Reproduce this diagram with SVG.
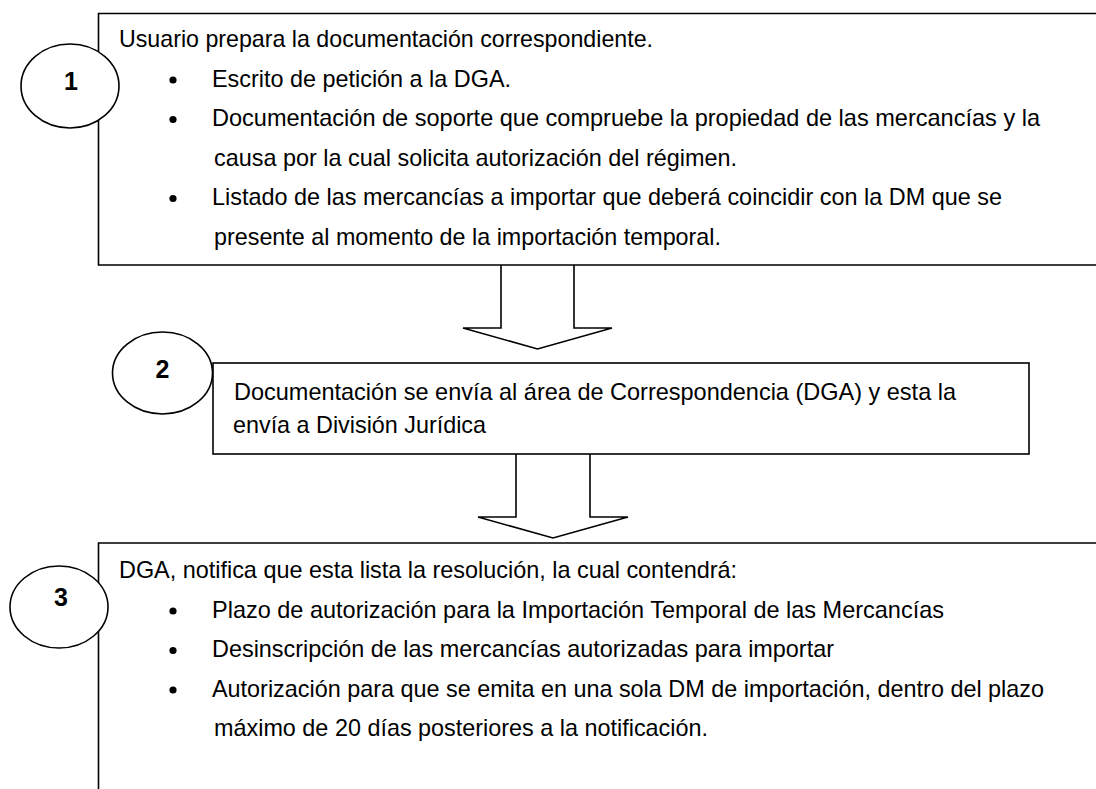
<svg xmlns="http://www.w3.org/2000/svg" width="1096" height="789" viewBox="0 0 1096 789">
<style>
.box{fill:#fff;stroke:#000;stroke-width:1.6}
.oval{fill:#fff;stroke:#000;stroke-width:1.6}
.arrow{fill:#fff;stroke:#000;stroke-width:1.6;stroke-linejoin:miter}
.t{font-family:"Liberation Sans",Arial,sans-serif;font-size:24px;fill:#000}
.num{font-family:"Liberation Sans",Arial,sans-serif;font-size:25px;font-weight:bold;fill:#000;text-anchor:middle}
.bul{fill:#000}
</style>
<rect width="1096" height="789" fill="#fff"/>
<g id="connectors">
<path class="arrow" d="M501,265 V328 H463 L537.5,349 L612,328 H574 V265"/>
<path class="arrow" d="M516,454 V517 H478 L553,538 L628,517 H590 V454"/>
</g>
<g id="node1">
<path class="box" d="M1096,13.5 H98.5 V265 H1096"/>
<text class="t" x="119" y="47" textLength="534" lengthAdjust="spacingAndGlyphs">Usuario prepara la documentación correspondiente.</text>
<circle class="bul" cx="173" cy="80" r="3.6"/>
<text class="t" x="212" y="86.5" textLength="299" lengthAdjust="spacingAndGlyphs">Escrito de petición a la DGA.</text>
<circle class="bul" cx="173" cy="119.5" r="3.6"/>
<text class="t" x="212" y="126" textLength="828" lengthAdjust="spacingAndGlyphs">Documentación de soporte que compruebe la propiedad de las mercancías y la</text>
<text class="t" x="214" y="165.5" textLength="523" lengthAdjust="spacingAndGlyphs">causa por la cual solicita autorización del régimen.</text>
<circle class="bul" cx="173" cy="198.5" r="3.6"/>
<text class="t" x="212" y="205" textLength="790" lengthAdjust="spacingAndGlyphs">Listado de las mercancías a importar que deberá coincidir con la DM que se</text>
<text class="t" x="214" y="244.5" textLength="507" lengthAdjust="spacingAndGlyphs">presente al momento de la importación temporal.</text>
</g>
<g id="badge1">
<ellipse class="oval" cx="70" cy="86" rx="49" ry="42"/>
<text class="num" x="71" y="90">1</text>
</g>
<g id="node2">
<rect class="box" x="213" y="363" width="816" height="91"/>
<text class="t" x="234" y="400" textLength="722" lengthAdjust="spacingAndGlyphs">Documentación se envía al área de Correspondencia (DGA) y esta la</text>
<text class="t" x="233" y="433" textLength="253" lengthAdjust="spacingAndGlyphs">envía a División Jurídica</text>
</g>
<g id="badge2">
<ellipse class="oval" cx="162.5" cy="373" rx="50" ry="41"/>
<text class="num" x="162.5" y="378">2</text>
</g>
<g id="node3">
<path class="box" d="M1096,543 H98.5 V789"/>
<text class="t" x="119" y="578" textLength="618" lengthAdjust="spacingAndGlyphs">DGA, notifica que esta lista la resolución, la cual contendrá:</text>
<circle class="bul" cx="173" cy="611" r="3.6"/>
<text class="t" x="212" y="617.5" textLength="732" lengthAdjust="spacingAndGlyphs">Plazo de autorización para la Importación Temporal de las Mercancías</text>
<circle class="bul" cx="173" cy="650.5" r="3.6"/>
<text class="t" x="212" y="657" textLength="622" lengthAdjust="spacingAndGlyphs">Desinscripción de las mercancías autorizadas para importar</text>
<circle class="bul" cx="173" cy="690" r="3.6"/>
<text class="t" x="212" y="696.5" textLength="832" lengthAdjust="spacingAndGlyphs">Autorización para que se emita en una sola DM de importación, dentro del plazo</text>
<text class="t" x="214" y="736" textLength="494" lengthAdjust="spacingAndGlyphs">máximo de 20 días posteriores a la notificación.</text>
</g>
<g id="badge3">
<ellipse class="oval" cx="59" cy="607" rx="49" ry="41"/>
<text class="num" x="61" y="606">3</text>
</g>
</svg>
